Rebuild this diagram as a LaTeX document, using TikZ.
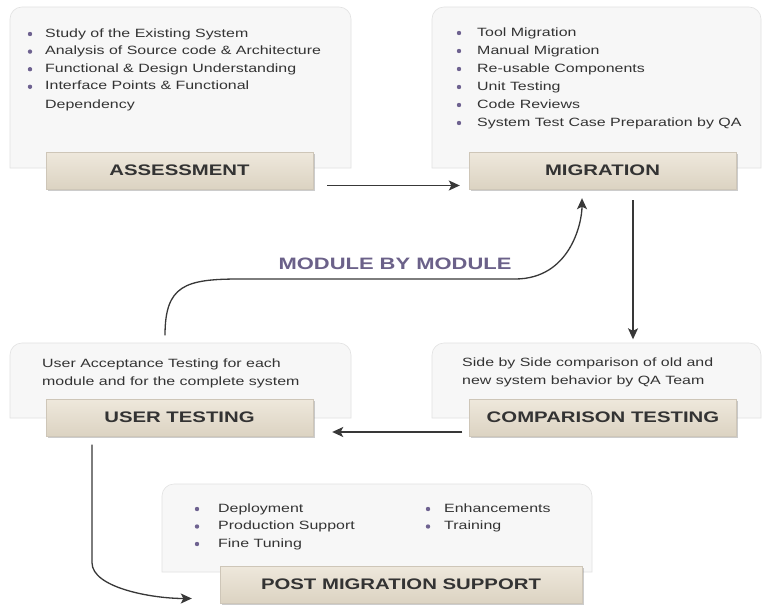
\documentclass[tikz,border=0pt]{standalone}
\usepackage{fontspec}
\setmainfont{Liberation Sans}[FakeStretch=1.33]
\usetikzlibrary{arrows.meta,shadows,calc}

\definecolor{panelfill}{HTML}{F7F7F7}
\definecolor{panelline}{HTML}{E2E2E2}
\definecolor{boxtop}{HTML}{EEE8DC}
\definecolor{boxbot}{HTML}{DCD3C2}
\definecolor{bulletc}{HTML}{6E6290}
\definecolor{textc}{HTML}{333333}
\definecolor{modc}{HTML}{6B6189}

\tikzset{
  panel/.style={fill=panelfill, draw=panelline, line width=0.6pt},
  stagebox/.style={rectangle, top color=boxtop, bottom color=boxbot,
    draw=boxbot!85!gray, line width=0.4pt, minimum width=267pt,
    minimum height=37pt, inner sep=0pt, text=textc,
    font=\fontsize{15.3}{18}\selectfont\bfseries,
    drop shadow={shadow xshift=1.5pt, shadow yshift=-2pt, opacity=0.4}},
  item/.style={anchor=west, inner sep=0pt, text height=8.5pt,
    text depth=2.5pt, text=textc, font=\fontsize{12}{14}\selectfont},
  flow/.style={-{Stealth[length=11pt,width=10pt,inset=2.5pt]}, line width=1.3pt, draw=black!78},
}

\begin{document}
\begin{tikzpicture}[x=1pt, y=-1pt]
            \useasboundingbox (0,0) rectangle (763,605);
            \fill[white] (0,0) rectangle (763,605);
            % Hintergrundflaechen
            \path[panel] (10,168) [rounded corners=12pt] -- (10,7) -- (351,7) [sharp corners] -- (351,168) -- cycle;
            \path[panel] (432,168) [rounded corners=12pt] -- (432,7) -- (761,7) [sharp corners] -- (761,168) -- cycle;
            \path[panel] (10,418) [rounded corners=12pt] -- (10,343) -- (351,343) [sharp corners] -- (351,418) -- cycle;
            \path[panel] (432,418) [rounded corners=12pt] -- (432,343) -- (761,343) [sharp corners] -- (761,418) -- cycle;
            \path[panel] (162,572) [rounded corners=12pt] -- (162,484) -- (592,484) [sharp corners] -- (592,572) -- cycle;
            % Assessment
            \foreach \n/\t in {1/Study of the Existing System, 2/Analysis of Source code \& Architecture,
                               3/Functional \& Design Understanding, 4/Interface Points \& Functional} {
              \fill[bulletc] (30,{34+17.6*(\n-1)}) circle (2.2pt);
              \node[item] (as\n) at (45,{34+17.6*(\n-1)}) {\t};
            }
            \node[item] (as5) at (45,105) {Dependency};
            % Migration
            \foreach \n/\t in {1/Tool Migration, 2/Manual Migration, 3/Re-usable Components,
                               4/Unit Testing, 5/Code Reviews, 6/System Test Case Preparation by QA} {
              \fill[bulletc] (459,{33+18*(\n-1)}) circle (2.2pt);
              \node[item] (mi\n) at (477,{33+18*(\n-1)}) {\t};
            }
            % User Testing / Comparison
            \node[item] (ut1) at (42,364)   {User Acceptance Testing for each};
            \node[item] (ut2) at (42,382.5) {module and for the complete system};
            \node[item] (ct1) at (462,363)   {Side by Side comparison of old and};
            \node[item] (ct2) at (462,381.5) {new system behavior by QA Team};
            % Post Migration
            \foreach \n/\t in {1/Deployment, 2/Production Support, 3/Fine Tuning} {
              \fill[bulletc] (197,{509+17.5*(\n-1)}) circle (2.2pt);
              \node[item] (pa\n) at (218,{509+17.5*(\n-1)}) {\t};
            }
            \foreach \n/\t in {1/Enhancements, 2/Training} {
              \fill[bulletc] (428,{509+17.5*(\n-1)}) circle (2.2pt);
              \node[item] (pb\n) at (444,{509+17.5*(\n-1)}) {\t};
            }
            % Phasen
            \node[stagebox] (assess) at (179.5,170.5) {ASSESSMENT};
            \node[stagebox] (migr)   at (602.5,170.5) {MIGRATION};
            \node[stagebox] (user)   at (179.5,417.5) {USER TESTING};
            \node[stagebox] (comp)   at (603,417.5)   {COMPARISON TESTING};
            \node[stagebox, minimum width=362pt] (post) at (401,584.5) {POST MIGRATION SUPPORT};
            % Pfeile
            \draw[flow] ($(assess.east)+(14,15)$) -- ($(migr.west)+(-9,15)$);
            \draw[flow] ($(migr.south)+(30.5,11)$) -- ($(comp.north)+(30,-59.5)$);
            \draw[flow] ($(comp.west)+(-7,14.5)$) -- ($(user.east)+(19,14.5)$);
            \draw[flow] ($(user.south)+(-87.5,8.5)$) -- ++(0,118)
                        .. controls +(0,25) and +(-40,0) .. ($(post.west)+(-28,14)$);
            \coordinate (bendL) at (240,279);
            \coordinate (bendR) at (515,279);
            \draw[flow] ($(user.north)+(-14.5,-63.5)$) .. controls +(0,-50) and +(-55,0) .. (bendL)
                        -- (bendR) .. controls +(55,0) and +(0,25) .. ($(migr.south)+(-20.5,9)$);
            \node[font=\fontsize{16.5}{18}\selectfont\bfseries, text=modc] (modlbl) at (395,264) {MODULE BY MODULE};
        \end{tikzpicture}
\end{document}
